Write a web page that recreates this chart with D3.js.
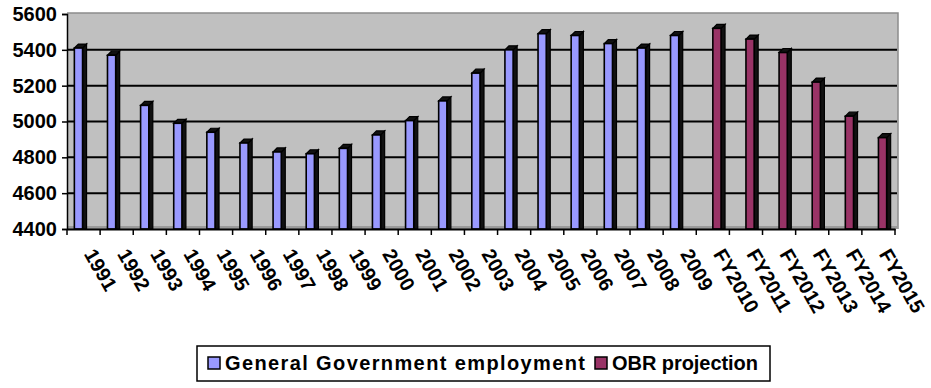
<!DOCTYPE html>
<html>
<head>
<meta charset="utf-8">
<script src="https://cdn.jsdelivr.net/npm/d3@7/dist/d3.min.js"></script>
<style>
  html, body { margin: 0; padding: 0; background: #fff; }
  svg { display: block; }
  text { font-family: "Liberation Sans", Arial, sans-serif; font-weight: bold; fill: #000; }
</style>
</head>
<body>
<svg id="chart" width="931" height="388"></svg>
<script>
// ---- data ----
const categories = ["1991","1992","1993","1994","1995","1996","1997","1998","1999","2000",
  "2001","2002","2003","2004","2005","2006","2007","2008","2009",
  "FY2010","FY2011","FY2012","FY2013","FY2014","FY2015"];
const govEmployment = [5410,5370,5090,4990,4940,4880,4830,4820,4850,4925,
  5005,5115,5270,5400,5490,5480,5435,5410,5480,
  null,null,null,null,null,null];
const obrProjection = [null,null,null,null,null,null,null,null,null,null,
  null,null,null,null,null,null,null,null,null,
  5520,5460,5385,5220,5030,4910];
const seriesNames = ["General Government employment","OBR projection"];
const seriesColors = ["#9999FF","#993366"];
const yTicks = [4400,4600,4800,5000,5200,5400,5600];

(function () {
// ---- layout ----
const svg = d3.select("#chart");
const pL = 67, pR = 895, pT = 14, pB = 229;
const depth = 4;

const x = d3.scaleBand().domain(categories).range([pL, pR]).paddingInner(0).paddingOuter(0);
const xs = d3.scaleBand().domain([0,1]).range([0, x.bandwidth()]).paddingInner(0).paddingOuter(0.8);
const y = d3.scaleLinear().domain([4400,5600]).range([pB, pT]);

// back wall
svg.append("rect").attr("x", pL).attr("y", pT - 1).attr("width", pR - pL + 3).attr("height", pB - pT + 1)
  .attr("fill", "#C0C0C0");
svg.append("path").attr("d", `M${pL},${pT-1}H${pR+3}V${pB}`).attr("fill","none")
  .attr("stroke", "#8c8c8c").attr("stroke-width", 1.5);
// floor strip
svg.append("rect").attr("x", pL).attr("y", pB - 3).attr("width", pR - pL + 3).attr("height", 3)
  .attr("fill", "#9a9a9a");

// gridlines
svg.append("g").selectAll("line").data(yTicks.filter(t => t > 4400 && t < 5600)).join("line")
  .attr("x1", pL).attr("x2", pR + 2)
  .attr("y1", d => y(d)).attr("y2", d => y(d))
  .attr("stroke", "#000").attr("stroke-width", 2);

// bars
const barData = [];
categories.forEach((c, i) => {
  [govEmployment[i], obrProjection[i]].forEach((v, s) => {
    if (v != null) barData.push({c, s, v});
  });
});
const bw = xs.bandwidth() - 1;
const bars = svg.append("g").selectAll("g").data(barData).join("g");
bars.each(function(d) {
  const g = d3.select(this);
  const x0 = x(d.c) + xs(d.s);
  const y0 = y(d.v), y1 = y(4400);
  g.append("path")
    .attr("d", `M${x0+bw},${y0}L${x0+bw+depth},${y0-depth}L${x0+bw+depth},${y1}L${x0+bw},${y1}Z`)
    .attr("fill", "#111").attr("stroke", "#000").attr("stroke-width", 1.2);
  g.append("path")
    .attr("d", `M${x0},${y0}L${x0+depth},${y0-depth}L${x0+bw+depth},${y0-depth}L${x0+bw},${y0}Z`)
    .attr("fill", "#111").attr("stroke", "#000").attr("stroke-width", 1.2);
  g.append("rect").attr("x", x0).attr("y", y0).attr("width", bw).attr("height", y1 - y0)
    .attr("fill", seriesColors[d.s]).attr("stroke", "#000").attr("stroke-width", 1.6);
});

// y axis
const yAxis = d3.axisLeft(y).tickValues(yTicks).tickSize(5).tickPadding(5).tickFormat(d3.format("d"));
const ya = svg.append("g").attr("transform", `translate(${pL},0)`).call(yAxis);
ya.select(".domain").attr("stroke", "#000").attr("stroke-width", 1.5);
ya.selectAll(".tick line").attr("stroke", "#000").attr("stroke-width", 1.5);
ya.selectAll(".tick text").style("font-size", "20px").style("font-weight", "bold")
  .style("font-family", '"Liberation Sans", Arial, sans-serif').attr("fill", "#000");

// x axis
const xAxis = d3.axisBottom(x).tickSize(0).tickFormat(() => "");
const xa = svg.append("g").attr("transform", `translate(0,${pB})`).call(xAxis);
xa.select(".domain").attr("stroke", "#000").attr("stroke-width", 2);
const boundaries = categories.map(c => x(c)).concat([x.range()[1]]);
svg.append("g").selectAll("line").data(boundaries).join("line")
  .attr("x1", d => d).attr("x2", d => d).attr("y1", pB).attr("y2", pB + 6)
  .attr("stroke", "#000").attr("stroke-width", 1.5);
svg.append("g").selectAll("text").data(categories).join("text")
  .attr("transform", d => `translate(${x(d) + x.bandwidth()/2},${pB + 25}) rotate(60)`)
  .attr("text-anchor", "start")
  .style("font-size", "20px")
  .text(d => d);

// legend
const lg = svg.append("g");
lg.append("rect").attr("x", 197).attr("y", 346).attr("width", 573).attr("height", 35)
  .attr("fill", "#fff").attr("stroke", "#000").attr("stroke-width", 1.5);
const legendX = [208, 595];
const legendLen = [360, 146];
seriesNames.forEach((name, i) => {
  lg.append("rect").attr("x", legendX[i]).attr("y", 357).attr("width", 12).attr("height", 12)
    .attr("fill", seriesColors[i]).attr("stroke", "#000").attr("stroke-width", 1.5);
  lg.append("text").attr("x", legendX[i] + 17).attr("y", 370).style("font-size", "20px")
    .attr("textLength", legendLen[i]).attr("lengthAdjust", "spacing").text(name);
});
})();
</script>
</body>
</html>
